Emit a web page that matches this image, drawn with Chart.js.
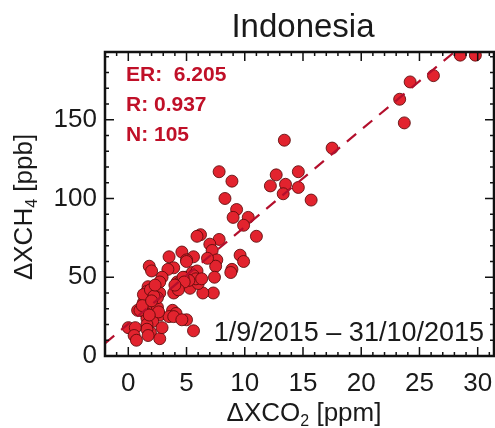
<!DOCTYPE html>
<html>
<head>
<meta charset="utf-8">
<script src="https://cdn.jsdelivr.net/npm/chart.js@4.4.1/dist/chart.umd.min.js"></script>
<style>
html, body { margin: 0; padding: 0; background: #fff; overflow: hidden; }
</style>
</head>
<body>
<canvas id="c" width="495" height="428"></canvas>
<script>
// data
const co2 = [28.5, 29.8, 26.2, 24.2, 23.3, 23.7, 17.5, 13.4, 12.7, 12.2, 13.5, 13.3, 14.6, 14.6, 15.7,
    7.8, 8.9, 8.3, 9.3, 9.0, 10.3, 9.9, 11.0, 7.8, 6.2, 5.9, 7.0, 7.2, 9.6, 9.9,
    7.6, 7.5, 6.8, 8.9, 8.8, 7.4, 7.3, 6.4, 5.6, 4.6, 5.0, 3.5, 3.9, 3.4, 2.9,
    2.7, 1.8, 2.0, 4.2, 4.9, 5.5, 5.9, 5.2, 5.3, 6.0, 3.9, 2.7, 1.7, 1.6, 1.5,
    1.3, 1.7, 2.5, 0.8, 1.5, 2.7, 3.8, 4.1, 3.5, 1.6, 2.1, 1.6, 1.9, 1.6, 5.0,
    5.6, 2.7, 0.0, 0.6, 0.5, 0.7, 1.0, 1.3, 1.9, 4.3, 2.5, 2.6, 5.0, 5.6, 5.8,
    5.2, 4.7, 4.8, 4.3, 3.9, 4.6, 1.7, 2.2, 1.2, 2.0, 6.3, 4.0, 1.8, 2.3, 2.9]
const ch4 = [191, 191, 178, 174, 163, 148, 132, 137, 115, 108, 109, 103, 117, 107, 99,
    117, 111, 100, 93, 88, 88, 83, 76, 74, 77, 76, 71, 67, 64, 60,
    61, 57, 62, 55, 53, 50, 40, 40, 63, 66, 61, 63, 56, 55, 50,
    47, 57, 54, 47, 50, 53, 54, 45, 43, 46, 40, 40, 44, 41, 37,
    34, 31, 31, 29, 27, 26, 29, 27, 25, 24, 22, 20, 15, 17, 23,
    16, 11, 18, 18, 13, 10, 29, 39, 42, 46, 37, 28, 60, 51, 49,
    48, 50, 47, 42, 25, 23, 13, 38, 32, 35, 49, 45, 26, 45, 18]

// fitted line end points
const fitX = [-2, 28]
const fitY = [8, 193]

const xTicks = [0, 5, 10, 15, 20, 25, 30]
const yTicks = [0, 50, 100, 150]

const titleText = 'Indonesia'
const statLines = ['ER:  6.205', 'R: 0.937', 'N: 105']
const period = '1/9/2015 \u2013 31/10/2015'

const FONT = '"Liberation Sans", Arial, Helvetica, sans-serif'
const statRed = '#c01028'

// text with a subscript piece, parts = [[text, isSub], ...]
function drawSub(ctx, parts, x, y, size) {
    let widths = parts.map(([t, sub]) => {
        ctx.font = `${sub ? Math.round(size * 0.62) : size}px ${FONT}`
        return ctx.measureText(t).width
    })
    let total = widths.reduce((a, b) => a + b, 0)
    let cx = x - total / 2
    ctx.textAlign = 'left'
    ctx.textBaseline = 'alphabetic'
    parts.forEach(([t, sub], i) => {
        ctx.font = `${sub ? Math.round(size * 0.62) : size}px ${FONT}`
        ctx.fillText(t, cx, sub ? y + size * 0.2 : y)
        cx += widths[i]
    })
}

const decorations = {
    id: 'decorations',
    afterDraw(chart) {
        const ctx = chart.ctx
        const a = chart.chartArea
        const xs = chart.scales.x
        const ys = chart.scales.y
        ctx.save()

        // ticks pointing inward on all four sides
        ctx.strokeStyle = '#111'
        ctx.lineWidth = 1.5
        ctx.beginPath()
        for (let v = -2; v <= xs.max; v++) {
            let px = xs.getPixelForValue(v)
            let len = v % 5 == 0 ? 9 : 4
            ctx.moveTo(px, a.bottom); ctx.lineTo(px, a.bottom - len)
            ctx.moveTo(px, a.top); ctx.lineTo(px, a.top + len)
        }
        for (let v = 0; v <= ys.max; v += 10) {
            let py = ys.getPixelForValue(v)
            let len = v % 50 == 0 ? 9 : 4
            ctx.moveTo(a.left, py); ctx.lineTo(a.left + len, py)
            ctx.moveTo(a.right, py); ctx.lineTo(a.right - len, py)
        }
        ctx.stroke()

        // frame
        ctx.lineWidth = 2.5
        ctx.strokeRect(a.left, a.top, a.right - a.left, a.bottom - a.top)

        // title
        ctx.fillStyle = '#1a1a1a'
        ctx.font = `33px ${FONT}`
        ctx.textAlign = 'center'
        ctx.textBaseline = 'middle'
        ctx.fillText(titleText, 303, 28)

        // axis titles
        drawSub(ctx, [['\u0394XCO', false], ['2', true], [' [ppm]', false]], 304, 421, 26)
        ctx.save()
        ctx.translate(32, 207)
        ctx.rotate(-Math.PI / 2)
        drawSub(ctx, [['\u0394XCH', false], ['4', true], [' [ppb]', false]], 0, 0, 26)
        ctx.restore()

        // stats
        ctx.fillStyle = statRed
        ctx.font = `bold 21px ${FONT}`
        ctx.textAlign = 'left'
        ctx.textBaseline = 'middle'
        statLines.forEach((s, i) => ctx.fillText(s, 126, 75 + i * 30))

        // period
        ctx.fillStyle = '#1a1a1a'
        ctx.font = `27px ${FONT}`
        ctx.textAlign = 'right'
        ctx.fillText(period, 484, 334)

        ctx.restore()
    }
}

new Chart(document.getElementById('c'), {
    type: 'scatter',
    data: {
        datasets: [{
            data: co2.map((x, i) => ({ x: x, y: ch4[i] })),
            backgroundColor: '#e2232e',
            borderColor: 'rgba(90,10,10,0.85)',
            borderWidth: 1,
            pointRadius: 6,
            order: 2
        }, {
            type: 'line',
            data: fitX.map((x, i) => ({ x: x, y: fitY[i] })),
            borderColor: '#b30f2c',
            borderWidth: 2.2,
            borderDash: [12, 9],
            pointRadius: 0,
            fill: false,
            order: 1
        }]
    },
    options: {
        responsive: false,
        animation: false,
        layout: { autoPadding: false, padding: { top: 52, right: 1, left: 0, bottom: 0 } },
        plugins: {
            legend: { display: false },
            tooltip: { enabled: false }
        },
        scales: {
            x: {
                type: 'linear',
                min: -2,
                max: 31.4,
                grid: { display: false, drawTicks: false },
                border: { display: false },
                afterBuildTicks: s => { s.ticks = xTicks.map(v => ({ value: v })) },
                afterFit: s => { s.height = 72; s.paddingLeft = 0; s.paddingRight = 0 },
                ticks: {
                    padding: 12,
                    color: '#1a1a1a',
                    font: { family: FONT, size: 26 },
                    maxRotation: 0
                }
            },
            y: {
                type: 'linear',
                min: 0,
                max: 193,
                grid: { display: false, drawTicks: false },
                border: { display: false },
                afterBuildTicks: s => { s.ticks = yTicks.map(v => ({ value: v })) },
                afterFit: s => { s.width = 105; s.paddingTop = 0; s.paddingBottom = 0 },
                ticks: {
                    padding: 8,
                    color: '#1a1a1a',
                    font: { family: FONT, size: 26 }
                }
            }
        }
    },
    plugins: [decorations]
})
</script>
</body>
</html>
